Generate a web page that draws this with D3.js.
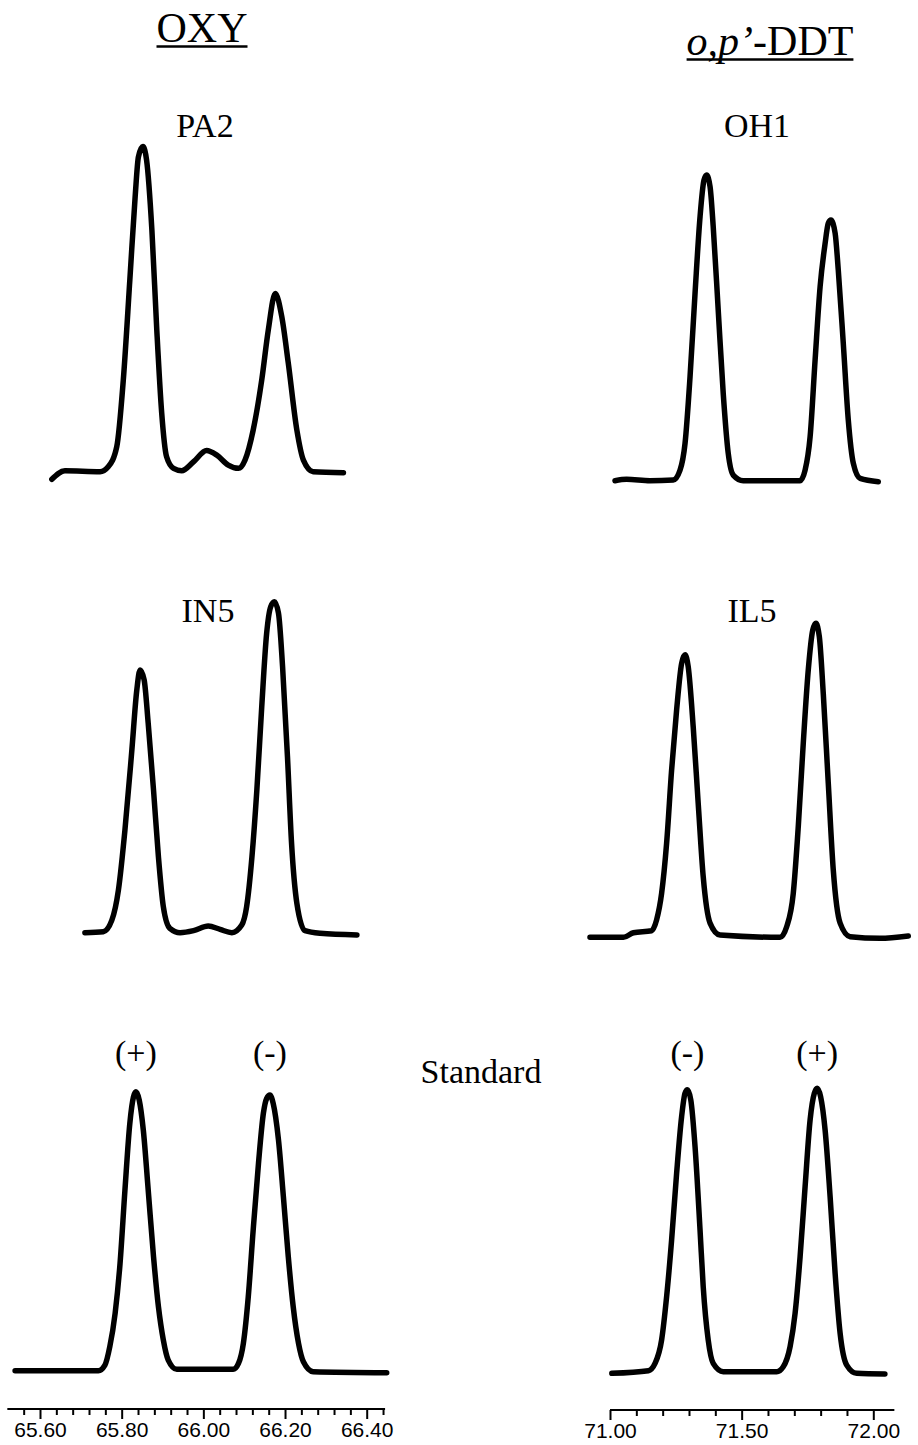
<!DOCTYPE html>
<html>
<head>
<meta charset="utf-8">
<script src="https://cdn.jsdelivr.net/npm/d3@7"></script>
<style>
  body { margin: 0; background: #fff; }
  svg { display: block; }
</style>
</head>
<body>
<svg id="chart" width="918" height="1445"></svg>
<script>
// Chromatograms: [retention time (min), detector signal (relative units)]

// OXY, sample PA2
const oxyPA2 = [
  [65.629, -2.5], [65.661, 0.1], [65.747, -0.2], [65.767, 1.3], [65.788, 7.4],
  [65.804, 27.6], [65.820, 57.9], [65.833, 83.1], [65.841, 95.2], [65.852, 98.3],
  [65.861, 94.2], [65.874, 73.0], [65.886, 42.7], [65.898, 17.6], [65.910, 4.3],
  [65.927, 0.8], [65.947, 0.1], [65.976, 2.8], [66.008, 6.2], [66.033, 4.8],
  [66.061, 1.8], [66.086, 0.8], [66.102, 3.3], [66.122, 12.4], [66.143, 27.6],
  [66.159, 42.7], [66.176, 53.8], [66.192, 46.8], [66.208, 32.7], [66.229, 12.4],
  [66.245, 3.3], [66.269, -0.2], [66.343, -0.5]
];

// OXY, sample IN5
const oxyIN5 = [
  [65.710, -0.2], [65.755, 0.1], [65.776, 3.6], [65.792, 12.7], [65.808, 30.9],
  [65.825, 55.2], [65.837, 73.3], [65.845, 79.4], [65.855, 76.4], [65.865, 63.2],
  [65.878, 43.0], [65.890, 22.8], [65.902, 7.7], [65.918, 1.1], [65.943, -0.2],
  [65.976, 0.4], [66.012, 1.8], [66.041, 0.8], [66.070, -0.2], [66.094, 2.1],
  [66.106, 7.7], [66.119, 22.8], [66.131, 43.0], [66.143, 68.3], [66.155, 90.5],
  [66.165, 98.6], [66.174, 100.1], [66.184, 96.6], [66.194, 80.4], [66.206, 53.1],
  [66.216, 26.9], [66.229, 8.7], [66.249, 0.4], [66.286, -0.4], [66.376, -0.9]
];

// OXY, racemic standard
const oxyStandard = [
  [65.539, 0.1], [65.743, 0.1], [65.759, 1.8], [65.771, 7.4], [65.784, 17.5],
  [65.796, 32.6], [65.808, 54.8], [65.820, 75.1], [65.829, 83.1], [65.835, 84.6],
  [65.843, 82.1], [65.853, 73.0], [65.865, 54.8], [65.878, 34.6], [65.890, 19.5],
  [65.902, 9.4], [65.914, 3.3], [65.935, 0.5], [66.073, 0.5], [66.086, 2.3],
  [66.098, 8.4], [66.110, 22.5], [66.122, 42.7], [66.135, 62.9], [66.147, 78.1],
  [66.155, 82.6], [66.163, 83.6], [66.171, 81.1], [66.184, 70.0], [66.196, 52.8],
  [66.208, 34.6], [66.220, 19.5], [66.233, 8.4], [66.245, 2.8], [66.269, -0.2],
  [66.449, -0.5]
];

// o,p'-DDT, sample OH1
const ddtOH1 = [
  [71.019, 0.1], [71.063, 0.5], [71.152, 0.1], [71.240, 0.3], [71.266, 3.3],
  [71.285, 11.4], [71.304, 31.6], [71.323, 56.9], [71.342, 80.1], [71.357, 91.2],
  [71.367, 92.7], [71.380, 89.2], [71.392, 77.1], [71.411, 51.8], [71.430, 26.6],
  [71.449, 8.4], [71.468, 1.8], [71.506, 0.1], [71.722, 0.1], [71.741, 3.3],
  [71.760, 13.4], [71.779, 36.7], [71.798, 58.9], [71.817, 72.0], [71.829, 78.1],
  [71.839, 79.1], [71.855, 75.1], [71.867, 63.9], [71.886, 41.7], [71.905, 18.5],
  [71.924, 5.4], [71.950, 0.8], [72.019, -0.2]
];

// o,p'-DDT, sample IL5
const ddtIL5 = [
  [70.924, -0.1], [71.051, -0.1], [71.089, 1.3], [71.158, 1.9], [71.177, 5.2],
  [71.196, 13.2], [71.215, 28.4], [71.234, 50.6], [71.253, 68.8], [71.272, 82.9],
  [71.285, 85.5], [71.297, 81.9], [71.316, 63.7], [71.335, 40.5], [71.354, 18.3],
  [71.380, 4.2], [71.418, 0.6], [71.646, -0.1], [71.671, 3.1], [71.696, 13.2],
  [71.715, 33.4], [71.734, 58.7], [71.753, 80.9], [71.770, 93.0], [71.782, 95.1],
  [71.795, 91.0], [71.810, 73.8], [71.829, 46.6], [71.848, 20.3], [71.874, 4.2],
  [71.912, 0.1], [72.025, -0.4], [72.133, 0.3]
];

// o,p'-DDT, racemic standard
const ddtStandard = [
  [71.007, -0.1], [71.146, 0.7], [71.171, 2.9], [71.196, 10.0], [71.215, 23.1],
  [71.234, 40.3], [71.253, 60.5], [71.272, 77.7], [71.285, 84.8], [71.294, 85.8],
  [71.307, 82.7], [71.323, 68.6], [71.342, 43.3], [71.354, 26.2], [71.373, 10.0],
  [71.392, 2.9], [71.430, 0.4], [71.633, 0.4], [71.658, 1.9], [71.684, 8.0],
  [71.703, 18.1], [71.722, 35.2], [71.741, 56.5], [71.760, 76.7], [71.776, 84.8],
  [71.787, 86.3], [71.800, 83.7], [71.817, 73.6], [71.836, 53.4], [71.855, 30.2],
  [71.874, 12.0], [71.899, 2.4], [71.937, -0.1], [72.044, -0.3]
];

// Axis ticks (min)
const oxyMajorTicks = [65.60, 65.80, 66.00, 66.20, 66.40];
const oxyMinorTicks = [65.56, 65.64, 65.68, 65.72, 65.76, 65.84, 65.88, 65.92, 65.96,
                       66.04, 66.08, 66.12, 66.16, 66.24, 66.28, 66.32, 66.36, 66.44];
const ddtMajorTicks = [71.00, 71.50, 72.00];
const ddtMinorTicks = [71.1, 71.2, 71.3, 71.4, 71.6, 71.7, 71.8, 71.9];

// Text
const sampleNames = ["PA2", "OH1", "IN5", "IL5"];
const oxyEnantiomerOrder = ["(+)", "(-)"];
const ddtEnantiomerOrder = ["(-)", "(+)"];

// ---------- layout ----------
const svg = d3.select("#chart");
const serif = "'Liberation Serif', 'Times New Roman', Times, serif";
const sans = "'Liberation Sans', Arial, Helvetica, sans-serif";

const xOxy = d3.scaleLinear().domain([65.60, 66.40]).range([40, 366.7]);
const xDdt = d3.scaleLinear().domain([71.00, 72.00]).range([610, 873.3]);
const pxPerUnit = 3.3;

const panels = [
  { data: oxyPA2,      x: xOxy, base: 471,  label: sampleNames[0], lx: 205, ly: 137 },
  { data: ddtOH1,      x: xDdt, base: 481,  label: sampleNames[1], lx: 757, ly: 137 },
  { data: oxyIN5,      x: xOxy, base: 932,  label: sampleNames[2], lx: 208, ly: 622 },
  { data: ddtIL5,      x: xDdt, base: 937,  label: sampleNames[3], lx: 752, ly: 622 },
  { data: oxyStandard, x: xOxy, base: 1371, enant: oxyEnantiomerOrder },
  { data: ddtStandard, x: xDdt, base: 1373, enant: ddtEnantiomerOrder }
];

panels.forEach(p => {
  const y = d3.scaleLinear().domain([0, 100]).range([p.base, p.base - 100 * pxPerUnit]);
  const line = d3.line()
    .x(d => p.x(d[0]))
    .y(d => y(d[1]))
    .curve(d3.curveMonotoneX);

  svg.append("path")
    .datum(p.data)
    .attr("d", line)
    .attr("fill", "none")
    .attr("stroke", "#000")
    .attr("stroke-width", 5.5)
    .attr("stroke-linecap", "round")
    .attr("stroke-linejoin", "round");

  if (p.label) {
    svg.append("text")
      .attr("x", p.lx).attr("y", p.ly)
      .attr("text-anchor", "middle")
      .attr("font-family", serif)
      .attr("font-size", 34)
      .text(p.label);
  }

  if (p.enant) {
    // enantiomer labels above the two apexes of the standard
    const apexes = [];
    p.data.forEach((d, i) => {
      if (i > 0 && i < p.data.length - 1 &&
          d[1] >= p.data[i - 1][1] && d[1] >= p.data[i + 1][1] && d[1] > 50) apexes.push(d);
    });
    apexes.forEach((d, i) => {
      svg.append("text")
        .attr("x", p.x(d[0])).attr("y", 1064)
        .attr("text-anchor", "middle")
        .attr("font-family", serif)
        .attr("font-size", 34)
        .text(p.enant[i]);
    });
  }
});

svg.append("text")
  .attr("x", 481).attr("y", 1083)
  .attr("text-anchor", "middle")
  .attr("font-family", serif)
  .attr("font-size", 34)
  .text("Standard");

// ---------- column titles ----------
function underlinedTitle(cx, baseline, build) {
  const t = svg.append("text")
    .attr("x", cx).attr("y", baseline)
    .attr("text-anchor", "middle")
    .attr("font-family", serif)
    .attr("font-size", 42);
  build(t);
  const bb = t.node().getBBox();
  svg.append("line")
    .attr("x1", bb.x).attr("x2", bb.x + bb.width)
    .attr("y1", baseline + 4.5).attr("y2", baseline + 4.5)
    .attr("stroke", "#000").attr("stroke-width", 2.5);
}
underlinedTitle(202, 42, t => t.text("OXY"));
underlinedTitle(770, 55, t => {
  t.append("tspan").attr("font-style", "italic").text("o,p\u2019");
  t.append("tspan").text("-DDT");
});

// ---------- x axes ----------
function timeAxis(scale, lo, hi, major, minor, yPos) {
  const s = scale.copy().domain([lo, hi]).range([scale(lo), scale(hi)]);
  const g = svg.append("g").attr("transform", `translate(0,${yPos})`);

  g.append("g")
    .call(d3.axisBottom(s).tickValues(minor).tickSize(6).tickFormat(""))
    .call(a => a.select(".domain").remove());

  g.append("g")
    .call(d3.axisBottom(s).tickValues(major).tickSize(10).tickPadding(3)
      .tickFormat(d3.format(".2f")))
    .call(a => a.select(".domain").attr("stroke-width", 2.2).attr("d", `M${s.range()[0]},0H${s.range()[1]}`))
    .call(a => a.selectAll("text")
      .attr("font-family", sans)
      .attr("font-size", 21)
      .attr("fill", "#000"));

  g.selectAll(".tick line").attr("stroke", "#000").attr("stroke-width", 2);
}
timeAxis(xOxy, 65.52, 66.445, oxyMajorTicks, oxyMinorTicks, 1409);
timeAxis(xDdt, 71.00, 72.08, ddtMajorTicks, ddtMinorTicks, 1410);
</script>
</body>
</html>
